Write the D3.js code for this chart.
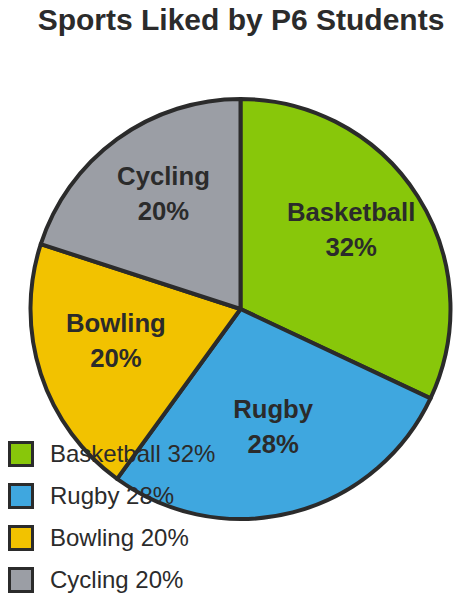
<!DOCTYPE html>
<html>
<head>
<meta charset="utf-8">
<script src="https://cdn.jsdelivr.net/npm/d3@7"></script>
<style>
html,body{margin:0;padding:0;background:#fff;}
text{font-family:"Liberation Sans",Arial,sans-serif;}
</style>
</head>
<body>
<svg id="chart" width="463" height="602"></svg>
<script>
const title = "Sports Liked by P6 Students";
const categories = ["Basketball", "Rugby", "Bowling", "Cycling"];
const values = [32, 28, 20, 20];
const colors = ["#88c70a", "#3fa7df", "#f2c200", "#9b9ea5"];

const svg = d3.select("#chart");
const W = 463, H = 602;
const cx = 240.5, cy = 309, R = 210;
const ink = "#2b2b2b";

svg.append("text")
  .attr("x", 241).attr("y", 30)
  .attr("text-anchor", "middle")
  .attr("font-size", 30).attr("font-weight", "bold")
  .attr("fill", ink)
  .text(title);

const data = categories.map((c, i) => ({name: c, value: values[i], color: colors[i]}));
const pie = d3.pie().value(d => d.value).sort(null);
const arcs = pie(data);
const arc = d3.arc().innerRadius(0).outerRadius(R);
const labelArc = d3.arc().innerRadius(R * 0.624).outerRadius(R * 0.624);

const g = svg.append("g").attr("transform", `translate(${cx},${cy})`);
g.selectAll("path").data(arcs).join("path")
  .attr("d", arc)
  .attr("fill", d => d.data.color)
  .attr("stroke", ink)
  .attr("stroke-width", 4)
  .attr("stroke-linejoin", "round");

const lbl = g.selectAll("g.lbl").data(arcs).join("g").attr("class", "lbl")
  .attr("transform", d => `translate(${labelArc.centroid(d)})`);
lbl.append("text")
  .attr("y", -17.5)
  .attr("text-anchor", "middle")
  .attr("font-size", 25.7).attr("font-weight", "bold").attr("fill", ink)
  .text(d => d.data.name);
lbl.append("text")
  .attr("y", 17.5)
  .attr("text-anchor", "middle")
  .attr("font-size", 25.7).attr("font-weight", "bold").attr("fill", ink)
  .text(d => d.data.value + "%");

const leg = svg.append("g");
const ly = d3.scalePoint().domain(categories).range([0, 126]);
const items = leg.selectAll("g").data(data).join("g")
  .attr("transform", d => `translate(0,${ly(d.name)})`);
items.append("rect")
  .attr("x", 9.5).attr("y", 442.5)
  .attr("width", 23).attr("height", 23)
  .attr("fill", d => d.color)
  .attr("stroke", ink).attr("stroke-width", 3);
items.append("text")
  .attr("x", 50).attr("y", 462)
  .attr("font-size", 24).attr("fill", ink)
  .text(d => `${d.name} ${d.value}%`);
</script>
</body>
</html>
